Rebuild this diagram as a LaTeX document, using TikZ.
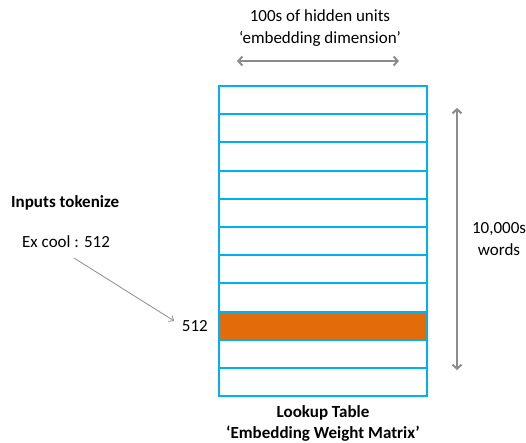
\documentclass[tikz,border=0pt]{standalone}
\usepackage{fontspec}
\setmainfont{Carlito}
\usepackage{xcolor}
\usetikzlibrary{arrows.meta,positioning}
\definecolor{gridblue}{HTML}{00B0F0}
\definecolor{roworange}{HTML}{E36C0A}
\definecolor{spangray}{HTML}{8C8C8C}

\begin{document}
\begin{tikzpicture}[x=1pt,y=-1pt,
    every node/.style={font=\fontsize{17}{22.5}\selectfont, inner sep=0pt},
    rowbox/.style={draw=gridblue, line width=2pt, outer sep=0pt,
      minimum width=208pt, minimum height=28.2pt, anchor=north west},
    hotrow/.style={rowbox, fill=roworange},
    spanarrow/.style={draw=spangray, line width=2pt,
      {Straight Barb[length=4pt,width=9pt]}-{Straight Barb[length=4pt,width=9pt]}},
    pointer/.style={draw=spangray, line width=0.8pt,
      -{Straight Barb[length=4pt,width=7pt]}}]
		\useasboundingbox (0,0) rectangle (526,442);
		% lookup table rows
		\foreach \i/\s in {0/rowbox,1/rowbox,2/rowbox,3/rowbox,4/rowbox,5/rowbox,
		    6/rowbox,7/rowbox,8/hotrow,9/rowbox,10/rowbox}
		  \node [\s] (row\i) at (219,86+28.2*\i) {};
		% labels
		\node [align=center] (dimtext) at (320,28) {100s of hidden units\\`embedding dimension'};
		\node [align=center] (wordtext) at (499,239) {10,000s\\words};
		\node [anchor=west, font=\fontsize{17}{22}\selectfont\bfseries] (inputs) at (11,203) {Inputs tokenize};
		\node [anchor=west] (excool) at (22,242) {Ex cool : 512};
		\node [left=11pt of row8] (idx) {512};
		\node [align=center, font=\fontsize{17}{21}\selectfont\bfseries] (tablename) at (323,423)
		  {Lookup Table\\`Embedding Weight Matrix'};
		% arrows
		\coordinate (dimL) at (237,61);
		\coordinate (dimR) at (399,61);
		\coordinate (wordT) at (457,108);
		\coordinate (wordB) at (457,370);
		\coordinate (exstart) at (74,258);
		\draw [spanarrow] (dimL) -- (dimR);
		\draw [spanarrow] (wordT) -- (wordB);
		\draw [pointer, shorten >=9pt] (exstart) -- (idx.west);
\end{tikzpicture}
\end{document}
